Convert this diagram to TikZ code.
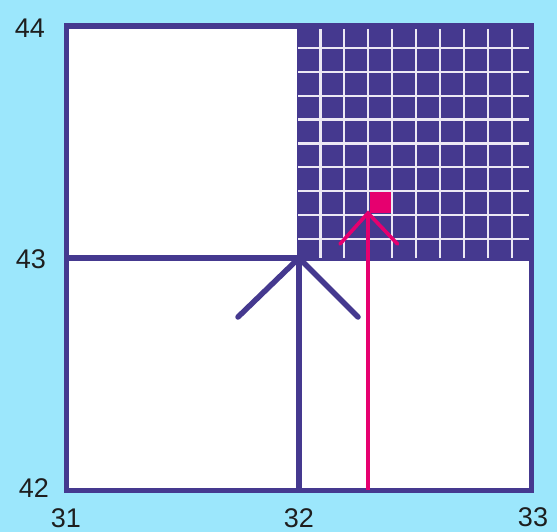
\documentclass[tikz,border=0pt]{standalone}
\usepackage{fontspec}
\setmainfont{Liberation Sans}
\definecolor{bgcyan}{HTML}{9CE7FC}
\definecolor{deeppurple}{HTML}{45398F}
\definecolor{hotpink}{HTML}{E6006F}
\definecolor{gridwhite}{HTML}{ECE8F4}
\definecolor{labelgray}{HTML}{1E1E1E}
\begin{document}
\begin{tikzpicture}[x=1pt,y=-1pt,
  axislabel/.style={font=\fontsize{27}{27}\selectfont, text=labelgray, inner sep=0pt},
  frameline/.style={draw=deeppurple, line width=5.5pt},
  gridline/.style={draw=gridwhite, line width=2.2pt},
  purplearrow/.style={draw=deeppurple, line width=5.5pt},
  pinkarrow/.style={draw=hotpink, line width=3.6pt}]
\useasboundingbox (0,0) rectangle (557,532);
\fill[bgcyan] (0,0) rectangle (557,532);
% white square
\fill[white] (66.5,26) rectangle (531.5,490.5);
% purple quadrant
\fill[deeppurple] (296.5,23.5) rectangle (534,260.5);
% grid
\foreach \k in {1,...,9}{
  \draw[gridline] ({296.5+23.9*\k},24) -- ({296.5+23.9*\k},258);
  \draw[gridline] (298,{24+23.9*\k}) -- (532,{24+23.9*\k});
}
% pink cell
\fill[hotpink] (370.3,192.3) rectangle (391.2,213.2);
% frame
\draw[frameline] (66.5,26) rectangle (531.5,490.5);
% midline
\coordinate (leftmid) at (66.5,258);
\coordinate (center) at (299,258);
\draw[frameline] (leftmid) -- (center);
% purple arrow
\coordinate (pbase) at (299,490.5);
\coordinate (pleft) at (238,317);
\coordinate (pright) at (358,317);
\draw[purplearrow] (pbase) -- (center);
\draw[purplearrow, line cap=round] (pleft) -- (center) -- (pright);
% pink arrow
\coordinate (kbase) at (368,490);
\coordinate (ktip) at (368,213);
\coordinate (kleft) at (340,244);
\coordinate (kright) at (397.5,244);
\draw[pinkarrow] (kbase) -- (ktip);
\draw[pinkarrow, line cap=round] (kleft) -- (ktip) -- (kright);
% labels
\node[axislabel] (l44) at (30,28) {44};
\node[axislabel] (l43) at (31,259) {43};
\node[axislabel] (l42) at (34,488) {42};
\node[axislabel] (l31) at (66,518) {31};
\node[axislabel] (l32) at (299,518) {32};
\node[axislabel] (l33) at (533,517) {33};
\end{tikzpicture}
\end{document}
